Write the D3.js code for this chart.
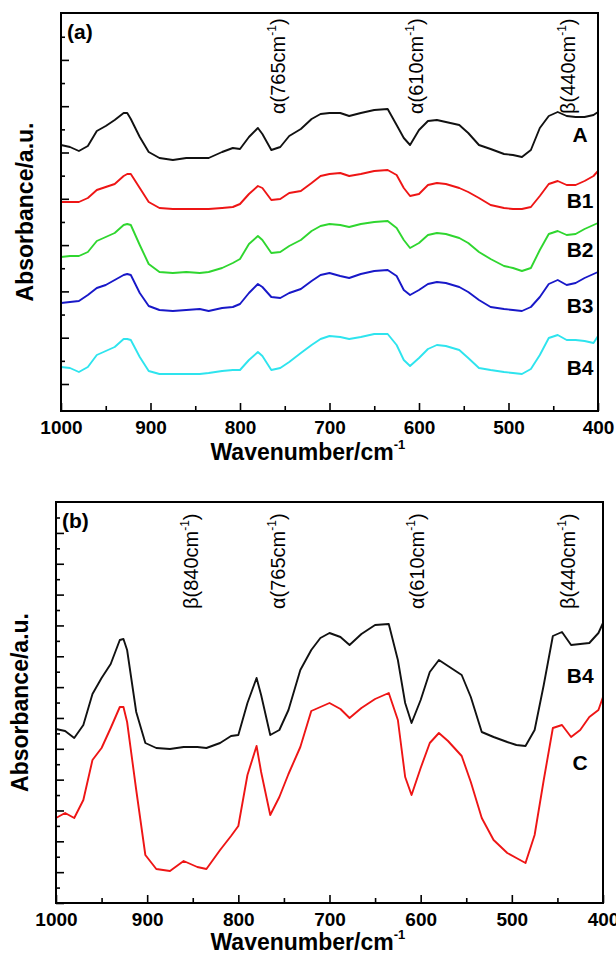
<!DOCTYPE html>
<html>
<head>
<meta charset="utf-8">
<script src="https://cdn.jsdelivr.net/npm/d3@7"></script>
<style>
  body { margin: 0; background: #fff; }
  svg { display: block; }
  text { font-family: "Liberation Sans", Arial, sans-serif; }
</style>
</head>
<body>
<svg id="chart" width="616" height="954"></svg>
<script>
// wavenumber grid (cm-1) shared by every spectrum
const wavenumbers = [1000, 990, 980, 970, 960, 950, 940, 930, 926, 922, 912,
  902, 890, 875, 860, 845, 835, 820, 808, 800,
  790, 780, 775, 765, 755, 745, 732, 720, 710, 700,
  688, 678, 665, 650, 635, 625, 617, 610, 600, 590,
  580, 570, 555, 545, 533, 520, 505, 495, 485, 475,
  465, 455, 445, 435, 425, 415, 405, 400];

// panel (a) absorbance, a.u. (stacked)
const specA = [2.66, 2.64, 2.60, 2.65, 2.80, 2.85, 2.91, 2.98, 2.98, 2.92, 2.74,
  2.59, 2.53, 2.51, 2.53, 2.53, 2.53, 2.59, 2.63, 2.62,
  2.74, 2.83, 2.77, 2.61, 2.64, 2.75, 2.82, 2.92, 2.97, 2.98,
  2.98, 2.95, 2.98, 3.01, 3.02, 2.86, 2.73, 2.66, 2.81, 2.90,
  2.91, 2.89, 2.86, 2.78, 2.66, 2.62, 2.57, 2.56, 2.54, 2.61,
  2.83, 2.95, 2.99, 2.95, 2.94, 2.94, 2.96, 2.99];
const specB1 = [2.09, 2.09, 2.09, 2.13, 2.21, 2.24, 2.27, 2.35, 2.37, 2.37, 2.23,
  2.09, 2.03, 2.02, 2.02, 2.02, 2.02, 2.03, 2.04, 2.07,
  2.17, 2.25, 2.23, 2.11, 2.12, 2.18, 2.20, 2.28, 2.35, 2.37,
  2.38, 2.35, 2.37, 2.40, 2.41, 2.36, 2.23, 2.15, 2.17, 2.26,
  2.28, 2.27, 2.23, 2.19, 2.13, 2.06, 2.03, 2.02, 2.02, 2.04,
  2.15, 2.27, 2.30, 2.26, 2.26, 2.30, 2.35, 2.40];
const specB2 = [1.54, 1.55, 1.55, 1.59, 1.70, 1.74, 1.78, 1.86, 1.87, 1.86, 1.66,
  1.47, 1.39, 1.38, 1.39, 1.38, 1.39, 1.43, 1.48, 1.52,
  1.67, 1.75, 1.71, 1.58, 1.59, 1.65, 1.71, 1.80, 1.85, 1.87,
  1.86, 1.84, 1.87, 1.89, 1.90, 1.83, 1.71, 1.63, 1.68, 1.76,
  1.78, 1.77, 1.73, 1.68, 1.59, 1.52, 1.45, 1.43, 1.40, 1.43,
  1.61, 1.77, 1.80, 1.76, 1.77, 1.82, 1.86, 1.88];
const specB3 = [1.08, 1.09, 1.10, 1.16, 1.23, 1.26, 1.31, 1.36, 1.37, 1.36, 1.18,
  1.05, 1.01, 1.00, 1.01, 1.02, 1.00, 1.03, 1.04, 1.07,
  1.18, 1.27, 1.24, 1.14, 1.13, 1.18, 1.22, 1.30, 1.36, 1.38,
  1.35, 1.33, 1.37, 1.40, 1.41, 1.35, 1.21, 1.16, 1.21, 1.27,
  1.29, 1.28, 1.24, 1.19, 1.11, 1.04, 1.02, 1.01, 1.00, 1.04,
  1.14, 1.27, 1.31, 1.26, 1.28, 1.33, 1.37, 1.39];
const specB4a = [0.44, 0.43, 0.39, 0.44, 0.56, 0.60, 0.64, 0.72, 0.72, 0.71, 0.54,
  0.40, 0.37, 0.37, 0.37, 0.37, 0.38, 0.40, 0.41, 0.41,
  0.51, 0.59, 0.55, 0.41, 0.43, 0.49, 0.58, 0.66, 0.72, 0.75,
  0.74, 0.72, 0.74, 0.77, 0.77, 0.66, 0.51, 0.45, 0.53, 0.62,
  0.66, 0.65, 0.61, 0.53, 0.43, 0.41, 0.39, 0.38, 0.37, 0.42,
  0.56, 0.73, 0.76, 0.71, 0.71, 0.70, 0.68, 0.75];

// panel (b)
const specB4b = [1.74, 1.72, 1.65, 1.78, 2.09, 2.25, 2.39, 2.63, 2.64, 2.53, 1.91,
  1.60, 1.55, 1.54, 1.56, 1.56, 1.55, 1.60, 1.67, 1.68,
  2.00, 2.25, 2.08, 1.68, 1.73, 1.93, 2.33, 2.53, 2.65, 2.70,
  2.66, 2.58, 2.69, 2.78, 2.79, 2.43, 2.00, 1.80, 2.03, 2.31,
  2.43, 2.37, 2.28, 2.06, 1.71, 1.66, 1.61, 1.58, 1.57, 1.73,
  2.18, 2.67, 2.71, 2.58, 2.59, 2.60, 2.70, 2.80];
const specC = [0.85, 0.90, 0.85, 1.03, 1.43, 1.55, 1.75, 1.96, 1.96, 1.81, 1.13,
  0.48, 0.34, 0.32, 0.42, 0.36, 0.34, 0.53, 0.67, 0.77,
  1.28, 1.57, 1.31, 0.88, 1.06, 1.29, 1.56, 1.92, 1.96, 2.00,
  1.94, 1.85, 1.95, 2.04, 2.10, 1.83, 1.26, 1.08, 1.35, 1.60,
  1.70, 1.62, 1.47, 1.21, 0.85, 0.63, 0.50, 0.45, 0.40, 0.68,
  1.23, 1.75, 1.78, 1.66, 1.73, 1.86, 1.93, 2.06];

const xMajorTicks = [1000, 900, 800, 700, 600, 500, 400];
const xMinorTicks = [950, 850, 750, 650, 550, 450];

// curve names and where their labels sit (wavenumber, a.u.)
const seriesA = [
  { name: 'A', values: specA, color: '#111111', labelAt: [420, 2.69] },
  { name: 'B1', values: specB1, color: '#ee1515', labelAt: [420, 2.03] },
  { name: 'B2', values: specB2, color: '#2fd62f', labelAt: [420, 1.54] },
  { name: 'B3', values: specB3, color: '#1818c8', labelAt: [420, 0.98] },
  { name: 'B4', values: specB4a, color: '#2ee4ee', labelAt: [420, 0.36] }
];
const seriesB = [
  { name: 'B4', values: specB4b, color: '#111111', labelAt: [425, 2.20] },
  { name: 'C', values: specC, color: '#ee1515', labelAt: [425, 1.33] }
];

// band assignments: symbol, band, wavenumber where the label's baseline sits
const bandsA = [
  { sym: 'α', band: 765, at: 750 },
  { sym: 'α', band: 610, at: 596 },
  { sym: 'β', band: 440, at: 426 }
];
const bandsB = [
  { sym: 'β', band: 840, at: 844 },
  { sym: 'α', band: 765, at: 749 },
  { sym: 'α', band: 610, at: 596 },
  { sym: 'β', band: 440, at: 431 }
];

const svg = d3.select('#chart');

function drawPanel(cfg) {
  const { left, top, width, height, yMax, yTicks, series, bands, tag } = cfg;
  const x = d3.scaleLinear().domain([1000, 400]).range([left, left + width]);
  const y = d3.scaleLinear().domain([0, yMax]).range([top + height, top]);
  const g = svg.append('g');

  // x axis, inward ticks
  const xMaj = g.append('g')
    .attr('transform', `translate(0,${top + height})`)
    .call(d3.axisBottom(x).tickValues(xMajorTicks).tickSize(-8).tickPadding(10).tickFormat(d3.format('d')));
  g.append('g')
    .attr('transform', `translate(0,${top + height})`)
    .call(d3.axisBottom(x).tickValues(xMinorTicks).tickSize(-5).tickFormat(''));
  xMaj.selectAll('text')
    .attr('font-size', 19).attr('font-weight', 'bold')
    .attr('font-family', '"Liberation Sans", Arial, sans-serif').attr('fill', '#000');

  // y axis, no labels
  g.append('g')
    .attr('transform', `translate(${left},0)`)
    .call(d3.axisLeft(y).tickValues(yTicks.filter((d, i) => i % 2 === 0)).tickSize(-8).tickFormat(''));
  g.append('g')
    .attr('transform', `translate(${left},0)`)
    .call(d3.axisLeft(y).tickValues(yTicks.filter((d, i) => i % 2 === 1)).tickSize(-4).tickFormat(''));

  g.selectAll('.domain').remove();
  g.selectAll('.tick line').attr('stroke', '#000').attr('stroke-width', 1.6);

  const line = d3.line()
    .x((d, i) => x(wavenumbers[i]))
    .y(d => y(d));

  g.selectAll('path.spec')
    .data(series)
    .join('path')
    .attr('class', 'spec')
    .attr('d', d => line(d.values))
    .attr('fill', 'none')
    .attr('stroke', d => d.color)
    .attr('stroke-width', 1.9)
    .attr('stroke-linejoin', 'round');

  g.selectAll('text.lab')
    .data(series)
    .join('text')
    .attr('class', 'lab')
    .attr('x', d => x(d.labelAt[0]))
    .attr('y', d => y(d.labelAt[1]))
    .attr('text-anchor', 'middle')
    .attr('font-size', 21)
    .attr('font-weight', 'bold')
    .text(d => d.name);

  // band labels, rotated
  const bt = g.selectAll('text.band')
    .data(bands)
    .join('text')
    .attr('class', 'band')
    .attr('transform', d => `translate(${x(d.at)},${top + cfg.bandBottom}) rotate(-90)`)
    .attr('font-size', 20);
  bt.append('tspan').text(d => `${d.sym}(${d.band}cm`);
  bt.append('tspan').attr('font-size', 12).attr('dy', -9).text('-1');
  bt.append('tspan').attr('dy', 9).text(')');

  // frame
  g.append('rect')
    .attr('x', left).attr('y', top)
    .attr('width', width).attr('height', height)
    .attr('fill', 'none').attr('stroke', '#000').attr('stroke-width', 2);

  // panel tag
  g.append('text')
    .attr('x', left + 6).attr('y', top + 26)
    .attr('font-family', '"Liberation Serif", "Times New Roman", serif')
    .attr('font-weight', 'bold').attr('font-size', 21)
    .text(tag);

  // axis titles
  const xt = g.append('text')
    .attr('x', left + width / 2 - 119).attr('y', top + height + cfg.titleGap)
    .attr('font-size', 23).attr('font-weight', 'bold');
  xt.append('tspan').text('Wavenumber/cm');
  xt.append('tspan').attr('font-size', 13).attr('dy', -11).text('-1');

  g.append('text')
    .attr('transform', `translate(${left - 28},${top + height / 2}) rotate(-90)`)
    .attr('text-anchor', 'middle')
    .attr('font-size', 23).attr('font-weight', 'bold')
    .text('Absorbance/a.u.');
}

drawPanel({
  left: 61, top: 13, width: 537, height: 398,
  yMax: 3.98,
  yTicks: d3.range(16).map(k => 0.27 + k * 0.2315),
  series: seriesA, bands: bandsA, tag: '(a)', bandBottom: 101, titleGap: 49
});

drawPanel({
  left: 56, top: 502, width: 547, height: 401,
  yMax: 4.01,
  yTicks: d3.range(26).map(k => k * 0.1542),
  series: seriesB, bands: bandsB, tag: '(b)', bandBottom: 107, titleGap: 47
});
</script>
</body>
</html>
